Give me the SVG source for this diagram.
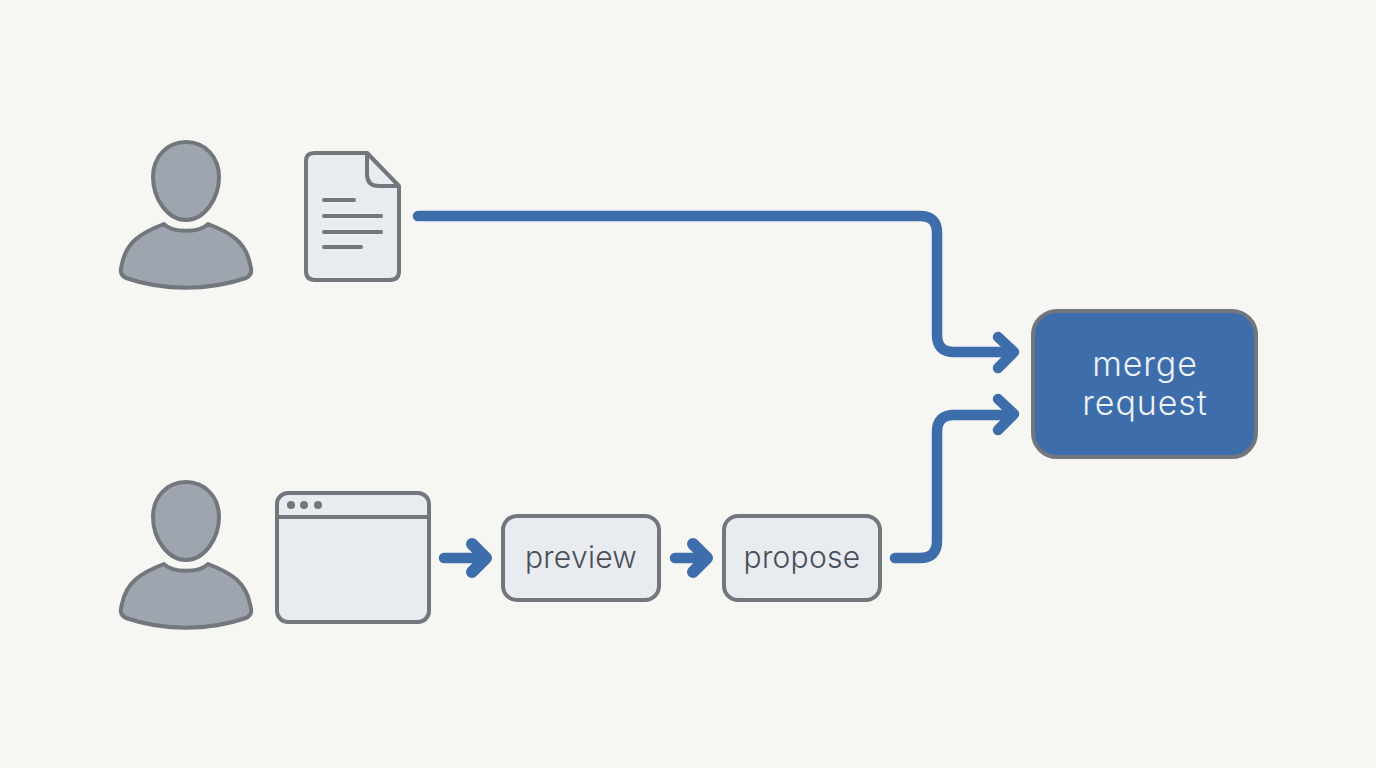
<svg xmlns="http://www.w3.org/2000/svg" width="1376" height="768" viewBox="0 0 1376 768">
<style>
.o{stroke:#72767d;stroke-width:4;stroke-linejoin:round}
.p{fill:#9fa5ae}
.l{fill:#e8ebf0}
.c{fill:none;stroke:#3d6dab;stroke-width:10.5;stroke-linecap:round;stroke-linejoin:round}
.s{stroke-width:12}
.t{font-family:"Inter","Liberation Sans",sans-serif;font-size:30px;font-weight:300;letter-spacing:.3px;text-anchor:middle}
.m{font-size:34px;letter-spacing:.9px}
.g{fill:none;stroke:#72767d;stroke-width:4;stroke-linecap:round}
</style>
<defs>
<path id="head" d="M186 142C167 142 153 157 153 177C153 199 168 220 186 220C204 220 219 199 219 177C219 157 205 142 186 142Z"/>
<path id="body" d="M164 224C172 233 200 233 208 224C232 233 246 243 250 264C252 271 252 275 246 278C208 291 164 291 126 278C120 275 120 271 122 264C126 243 140 233 164 224Z"/>
</defs>
<rect width="1376" height="768" fill="#f6f6f2"/>
<g id="person1"><use href="#head" class="o p"/><use href="#body" class="o p"/></g>
<g id="document"><path class="o l" d="M314 153H367L399 187V271Q399 280 390 280H315Q306 280 306 271V161Q306 153 314 153Z"/><path class="o" fill="#e8ebf0" d="M367 153V174Q367 186 379 186H399Z"/><path class="g" d="M324 200H354M324 216H381M324 232H381M324 247H361"/></g>
<g id="person2" transform="translate(0 340)"><use href="#head" class="o p"/><use href="#body" class="o p"/></g>
<g id="browser"><rect class="o l" x="277" y="493" width="152" height="129" rx="11"/><path class="g" d="M278 517H428"/><circle cx="291" cy="505" r="4" fill="#72767d"/><circle cx="304" cy="505" r="4" fill="#72767d"/><circle cx="318" cy="505" r="4" fill="#72767d"/></g>
<g id="preview"><rect class="o l" x="503" y="516" width="156" height="84" rx="14"/><text class="t" x="581" y="568" fill="#4a4f57">preview</text></g>
<g id="propose"><rect class="o l" x="724" y="516" width="156" height="84" rx="14"/><text class="t" x="802" y="568" fill="#4a4f57">propose</text></g>
<g id="merge"><rect class="o" fill="#3d6dab" x="1033" y="311" width="223" height="146" rx="24"/><text class="t m" x="1145" y="376" fill="#eef2f6">merge</text><text class="t m" x="1145" y="415" fill="#eef2f6">request</text></g>
<g id="connectors">
<path class="c" d="M418 216H920Q937 216 937 233V335Q937 352 954 352H1010"/><path class="c" d="M998 337L1014 352L998 368"/>
<path class="c" d="M895 558H920Q937 558 937 541V432Q937 415 954 415H1010"/><path class="c" d="M998 399L1014 414L998 430"/>
<path class="c" d="M444 558H482"/><path class="c s" d="M472 544L486 558L472 572"/>
<path class="c" d="M675 558H702"/><path class="c s" d="M693 544L707 558L693 572"/>
</g>
</svg>
